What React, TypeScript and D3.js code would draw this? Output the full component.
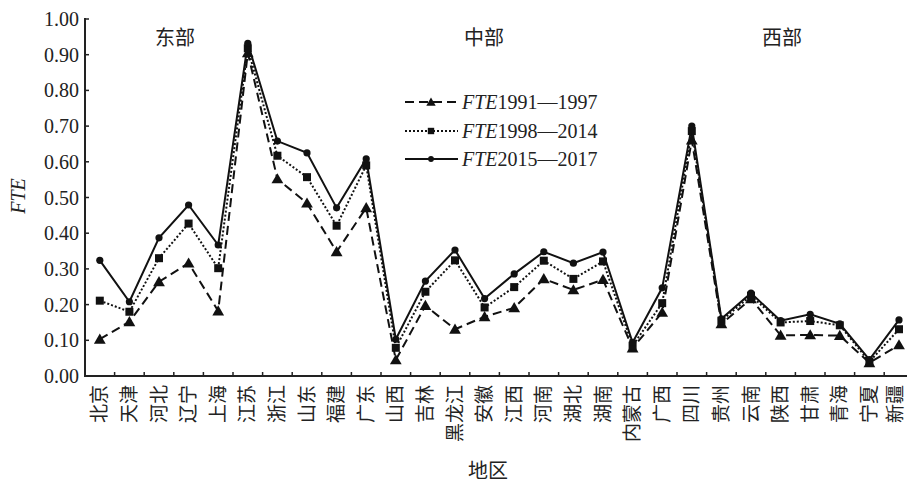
import React from "react";
import * as d3 from "d3";

const regions = ["北京","天津","河北","辽宁","上海","江苏","浙江","山东","福建","广东","山西","吉林","黑龙江","安徽","江西","河南","湖北","湖南","内蒙古","广西","四川","贵州","云南","陕西","甘肃","青海","宁夏","新疆"];
const fte9197 = [0.103,0.152,0.264,0.316,0.182,0.905,0.552,0.484,0.348,0.471,0.045,0.197,0.131,0.166,0.191,0.272,0.241,0.270,0.078,0.178,0.661,0.146,0.216,0.114,0.115,0.113,0.037,0.087];
const fte9814 = [0.211,0.180,0.330,0.427,0.302,0.918,0.617,0.557,0.421,0.590,0.079,0.236,0.324,0.192,0.249,0.323,0.272,0.321,0.085,0.204,0.686,0.155,0.225,0.150,0.154,0.142,0.040,0.131];
const fte1517 = [0.324,0.208,0.387,0.479,0.367,0.932,0.658,0.625,0.471,0.608,0.103,0.266,0.353,0.217,0.286,0.348,0.316,0.347,0.094,0.247,0.700,0.160,0.232,0.155,0.173,0.146,0.046,0.157];
const seriesNames = ["1991—1997","1998—2014","2015—2017"];
const yTicks = [0,0.1,0.2,0.3,0.4,0.5,0.6,0.7,0.8,0.9,1.0];
const groupLabels = ["东部","中部","西部"];

const W = 907, H = 484;
const serif = "'Liberation Serif', 'Times New Roman', serif";
const cjk = "'Noto Sans CJK SC', sans-serif";

export default function App() {
  const x = d3.scaleBand<string>().domain(regions).range([85, 85 + 28 * 29.6]);
  const y = d3.scaleLinear().domain([0, 1]).range([376, 19]);
  const cx = (r: string) => (x(r) as number) + x.bandwidth() / 2;
  const line = d3.line<number>().x((_, i) => cx(regions[i])).y(d => y(d));
  const series = [
    { data: fte9197, dash: "9,5", marker: "tri" },
    { data: fte9814, dash: "2,2", marker: "sq" },
    { data: fte1517, dash: "", marker: "circ" },
  ];
  const tri = d3.symbol().type(d3.symbolTriangle).size(60)();
  const marker = (m: string, px: number, py: number, key: any, s = 1) => {
    if (m === "tri") return <path key={key} d={tri as string} transform={`translate(${px},${py + 1}) scale(${s})`} fill="#111" />;
    if (m === "sq") return <rect key={key} x={px - 4 * s} y={py - 4 * s} width={8 * s} height={8 * s} fill="#111" />;
    return <circle key={key} cx={px} cy={py} r={3.6 * s} fill="#111" />;
  };
  const groupX = [175, 484, 782];
  const legendY = [102, 131, 159];
  return (
    <svg width={W} height={H} style={{ position: "absolute", left: 0, top: 0, background: "#fff" }}>
      <rect width={W} height={H} fill="#fff" />
      {/* axes */}
      <line x1={85} y1={18} x2={85} y2={377} stroke="#222" strokeWidth={2} />
      <line x1={84} y1={376} x2={W} y2={376} stroke="#222" strokeWidth={2} />
      {yTicks.map(t => (
        <g key={t}>
          <line x1={85} x2={89} y1={y(t)} y2={y(t)} stroke="#222" strokeWidth={1.5} />
          <text x={79} y={y(t)} dy="0.35em" textAnchor="end" fontFamily={serif} fontSize={20} fill="#222">{t.toFixed(2)}</text>
        </g>
      ))}
      {regions.map((r, i) => i > 0 ? (
        <line key={r} x1={x(r)} x2={x(r)} y1={376} y2={372} stroke="#222" strokeWidth={1.5} />
      ) : null)}
      {regions.map(r => (
        <text key={r} transform={`translate(${Math.min(cx(r) + 6.5, 902)},385) rotate(-90)`} textAnchor="end" fontFamily={cjk} fontSize={19} fill="#222">{r}</text>
      ))}
      <text x={488} y={478} textAnchor="middle" fontFamily={cjk} fontSize={20} fill="#222">地区</text>
      <text transform="translate(25,196) rotate(-90)" textAnchor="middle" fontFamily={serif} fontStyle="italic" fontSize={20} fill="#222">FTE</text>
      {groupLabels.map((g, i) => (
        <text key={g} x={groupX[i]} y={45} textAnchor="middle" fontFamily={cjk} fontSize={20} fill="#222">{g}</text>
      ))}
      {/* lines */}
      {series.map((s, si) => (
        <g key={si}>
          <path d={line(s.data) as string} fill="none" stroke="#111" strokeWidth={2} strokeDasharray={s.dash || undefined} />
          {s.data.map((v, i) => marker(s.marker, cx(regions[i]), y(v), i))}
        </g>
      ))}
      {/* legend */}
      {series.map((s, si) => (
        <g key={"l" + si}>
          <line x1={405} x2={458} y1={legendY[si]} y2={legendY[si]} stroke="#111" strokeWidth={2} strokeDasharray={s.dash || undefined} />
          {marker(s.marker, 431, legendY[si], "m", 0.8)}
          <text x={462} y={legendY[si]} dy="0.35em" fontFamily={serif} fontSize={20} fill="#222">
            <tspan fontStyle="italic">FTE</tspan>{seriesNames[si]}
          </text>
        </g>
      ))}
    </svg>
  );
}
